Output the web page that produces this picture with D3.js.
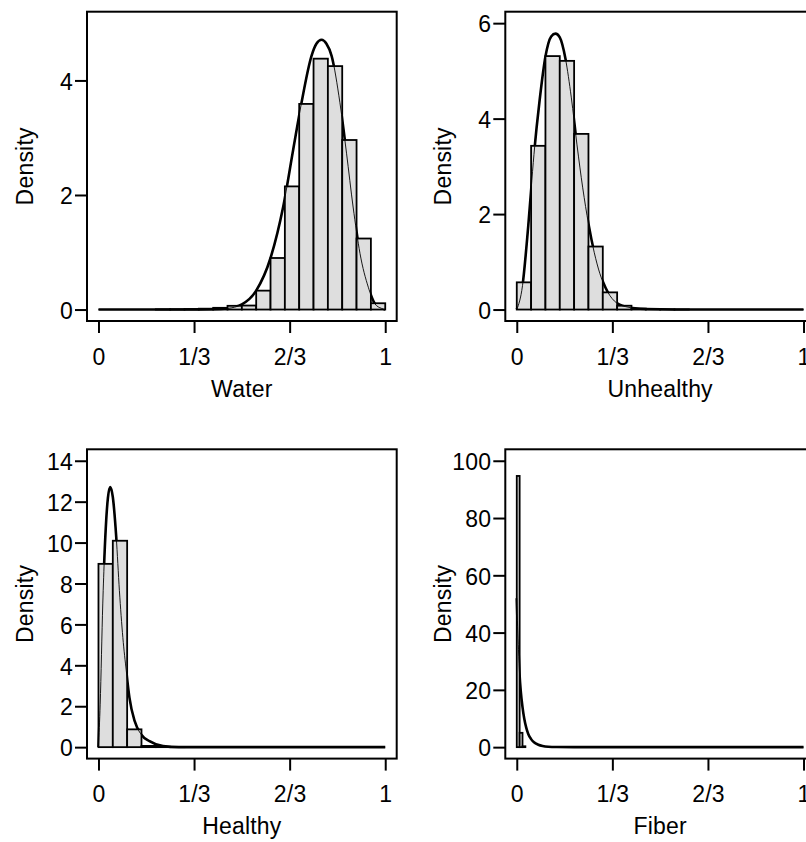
<!DOCTYPE html>
<html>
<head>
<meta charset="utf-8">
<script src="https://cdn.jsdelivr.net/npm/d3@7"></script>
<style>
  body { margin: 0; background: #fff; }
  svg text { font-family: "Liberation Sans", Arial, Helvetica, sans-serif; fill: #000; }
</style>
</head>
<body>
<svg id="chart" width="806" height="842"></svg>
<script>
// ---------- data ----------
const panelNames = ["Water", "Unhealthy", "Healthy", "Fiber"];
const yLabel = "Density";
const xTickValues = [0, 1/3, 2/3, 1];
const xTickLabels = ["0", "1/3", "2/3", "1"];
const yLimits = [5, 6, 14, 100];
const waterYTicks = [0, 2, 4];
const unhealthyYTicks = [0, 2, 4, 6];
const healthyYTicks = [0, 2, 4, 6, 8, 10, 12, 14];
const fiberYTicks = [0, 20, 40, 60, 80, 100];

// histogram densities (bins start at binStarts, width binWidths)
const binStarts = [0.2, 0, 0, 0];
const binWidths = [0.05, 0.05, 0.05, 0.01];
const waterHist = [0.004, 0.006, 0.01, 0.015, 0.03, 0.065, 0.07, 0.33, 0.90, 2.15, 3.59, 4.38, 4.25, 2.96, 1.24, 0.11];
const unhealthyHist = [0.57, 3.43, 5.31, 5.21, 3.68, 1.32, 0.36, 0.08, 0.02, 0.01, 0.004, 0.002];
const healthyHist = [8.96, 10.09, 0.87, 0.06, 0.02, 0.01];
const fiberHist = [94.7, 5.0, 0.3];

// fitted density curves
const waterCurveX = [0, 0.3, 0.4, 0.45, 0.5, 0.55, 0.6, 0.644, 0.679, 0.708, 0.743, 0.76, 0.778, 0.795, 0.813, 0.842, 0.865, 0.888, 0.912, 0.941, 0.964, 0.987, 1];
const waterCurveY = [0, 0, 0.005, 0.02, 0.09, 0.33, 0.9, 1.79, 2.79, 3.61, 4.43, 4.64, 4.71, 4.64, 4.43, 3.61, 2.73, 1.79, 0.98, 0.39, 0.1, 0.02, 0];
const unhealthyCurveX = [0, 0.02, 0.04, 0.06, 0.08, 0.1, 0.12, 0.135, 0.15, 0.17, 0.19, 0.21, 0.23, 0.25, 0.27, 0.29, 0.31, 0.34, 0.38, 0.45, 0.55, 1];
const unhealthyCurveY = [0, 0.5, 1.75, 3.25, 4.4, 5.3, 5.72, 5.78, 5.7, 5.25, 4.45, 3.45, 2.55, 1.8, 1.2, 0.75, 0.45, 0.18, 0.06, 0.01, 0, 0];
const healthyCurveX = [0, 0.006, 0.015, 0.027, 0.033, 0.041, 0.05, 0.062, 0.073, 0.085, 0.097, 0.108, 0.126, 0.149, 0.178, 0.225, 0.28, 1];
const healthyCurveY = [0, 2.1, 7.0, 11.1, 12.2, 12.72, 12.23, 10.27, 7.65, 5.36, 3.73, 2.42, 1.28, 0.62, 0.29, 0.05, 0, 0];
const fiberCurveX = [0, 0.003, 0.006, 0.01, 0.014, 0.02, 0.026, 0.033, 0.04, 0.05, 0.06, 0.075, 0.09, 0.11, 0.14, 0.2, 1];
const fiberCurveY = [52, 42, 34, 25, 19.5, 14, 10, 6.8, 4.6, 2.8, 1.7, 0.85, 0.4, 0.15, 0.05, 0, 0];

// ---------- drawing ----------
const panels = [
  { name: panelNames[0], yTicks: waterYTicks, hist: waterHist, cx: waterCurveX, cy: waterCurveY },
  { name: panelNames[1], yTicks: unhealthyYTicks, hist: unhealthyHist, cx: unhealthyCurveX, cy: unhealthyCurveY },
  { name: panelNames[2], yTicks: healthyYTicks, hist: healthyHist, cx: healthyCurveX, cy: healthyCurveY },
  { name: panelNames[3], yTicks: fiberYTicks, hist: fiberHist, cx: fiberCurveX, cy: fiberCurveY }
];

const svg = d3.select("#chart");
const boxW = 309.7, boxH = 309.3;
const boxLefts = [87, 505.3, 87, 505.3];
const boxTops = [11.7, 11.7, 449.3, 449.3];
const fontSize = 23;
const letterSp = "0.2px";

panels.forEach((p, i) => {
  const L = boxLefts[i], T = boxTops[i];
  const yl = yLimits[i];
  const x = d3.scaleLinear().domain([-0.04, 1.04]).range([L, L + boxW]);
  const y = d3.scaleLinear().domain([-0.04 * yl, 1.04 * yl]).range([T + boxH, T]);

  const g = svg.append("g");
  const clipId = "clip" + i;
  svg.append("clipPath").attr("id", clipId)
    .append("rect").attr("x", L).attr("y", T).attr("width", boxW).attr("height", boxH);
  const plot = g.append("g").attr("clip-path", `url(#${clipId})`);

  const pts = p.cx.map((d, j) => [d, p.cy[j]]);
  const line = d3.line().x(d => x(d[0])).y(d => y(d[1])).curve(d3.curveMonotoneX);

  // thick curve underneath
  plot.append("path").attr("d", line(pts))
    .attr("fill", "none").attr("stroke", "#000").attr("stroke-width", 2.6).attr("stroke-linejoin", "round");

  // histogram bars
  const x0 = j => binStarts[i] + j * binWidths[i];
  plot.selectAll("rect.bar").data(p.hist).join("rect")
    .attr("class", "bar")
    .attr("x", (d, j) => x(x0(j)))
    .attr("width", (d, j) => x(x0(j + 1)) - x(x0(j)))
    .attr("y", d => y(d))
    .attr("height", d => y(0) - y(d))
    .attr("fill", "#dedede").attr("stroke", "#000").attr("stroke-width", 1.8);

  // thin curve on top
  plot.append("path").attr("d", line(pts))
    .attr("fill", "none").attr("stroke", "#000").attr("stroke-width", 0.9);

  // box
  g.append("rect").attr("x", L).attr("y", T).attr("width", boxW).attr("height", boxH)
    .attr("fill", "none").attr("stroke", "#000").attr("stroke-width", 2);

  // x axis
  const xAxis = d3.axisBottom(x).tickValues(xTickValues)
    .tickFormat((d, k) => xTickLabels[k]).tickSize(12).tickPadding(15.5);
  const ax = g.append("g").attr("transform", `translate(0,${T + boxH})`).call(xAxis);
  ax.select(".domain").remove();
  ax.attr("font-size", fontSize).attr("font-family", null);
  ax.selectAll("line").attr("stroke", "#000").attr("stroke-width", 2);
  ax.selectAll("text").style("letter-spacing", letterSp);

  // y axis
  const yAxis = d3.axisLeft(y).tickValues(p.yTicks).tickFormat(d3.format("d")).tickSize(12).tickPadding(2);
  const ay = g.append("g").attr("transform", `translate(${L},0)`).call(yAxis);
  ay.select(".domain").remove();
  ay.attr("font-size", fontSize).attr("font-family", null);
  ay.selectAll("line").attr("stroke", "#000").attr("stroke-width", 2);
  ay.selectAll("text").attr("dy", "0.38em").style("letter-spacing", letterSp);

  // axis titles
  g.append("text")
    .attr("transform", `translate(${L - 54.5},${T + boxH / 2}) rotate(-90)`)
    .attr("text-anchor", "middle").attr("font-size", fontSize)
    .style("letter-spacing", letterSp)
    .text(yLabel);
  g.append("text")
    .attr("x", L + boxW / 2).attr("y", T + boxH + 75.5)
    .attr("text-anchor", "middle").attr("font-size", fontSize)
    .style("letter-spacing", letterSp)
    .text(p.name);
});
</script>
</body>
</html>
